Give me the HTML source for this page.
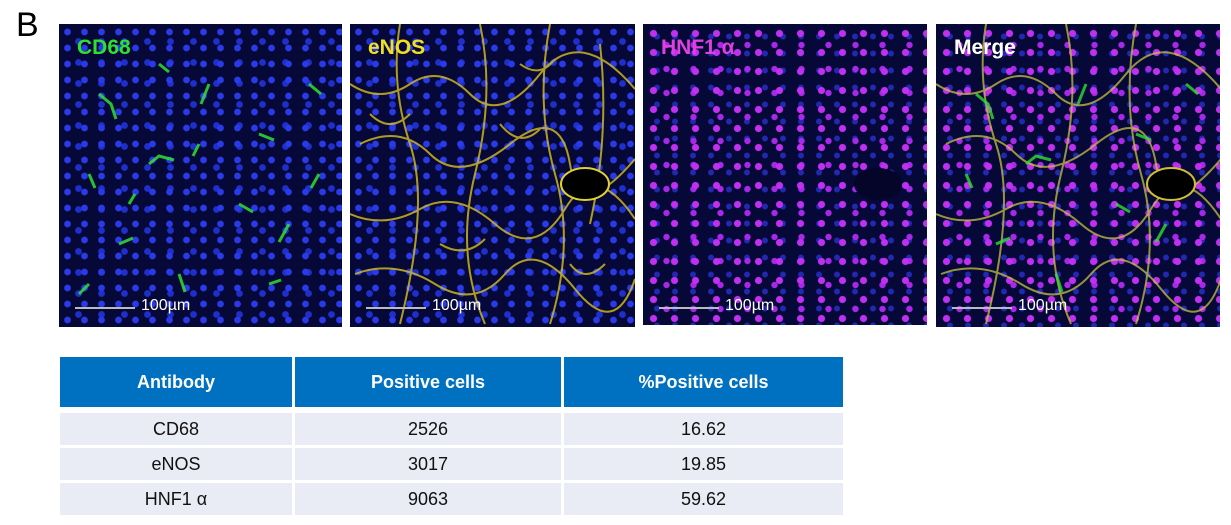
<!DOCTYPE html>
<html><head><meta charset="utf-8"><style>
body{margin:0;width:1231px;height:525px;background:#fff;position:relative;overflow:hidden;font-family:"Liberation Sans",sans-serif}
.B{position:absolute;left:16px;top:6px;font-size:34px;color:#000}
.p{position:absolute;top:24px;height:303px;background:#060838;overflow:hidden}
.dots{position:absolute;inset:0;background-image:radial-gradient(circle,#2a3ae8 3px,transparent 3.7px),radial-gradient(circle,#1f2fcc 3px,transparent 3.7px);background-size:17px 16px,23px 21px;background-position:0 0,8px 7px}
.mag{background-image:radial-gradient(circle,#c030f0 3.2px,transparent 3.9px),radial-gradient(circle,#a828e8 2.8px,transparent 3.5px),radial-gradient(circle,#2228b0 2.6px,transparent 3.3px);background-size:21px 19px,27px 24px,18px 17px;background-position:0 0,10px 9px,5px 4px}
.lab{position:absolute;left:18px;top:12px;font-weight:bold;font-size:21px}
.sb{position:absolute;left:16px;top:283px;width:60px;height:2px;background:#bbb}
.sbt{position:absolute;left:82px;top:273px;color:#fff;font-size:16px}
svg{position:absolute;inset:0}
table{position:absolute;left:57px;top:357px;border-collapse:separate;border-spacing:3px 0;font-family:"Liberation Sans",sans-serif;table-layout:fixed}
th,td{padding:0}
th{background:#0070c0;color:#fff;font-size:18px;height:50px;font-weight:bold}
td{background:#e9ecf4;text-align:center;font-size:18px;color:#111;height:32px;border-top:3px solid #fff}
tr.f td{border-top:6px solid #fff}
</style></head><body>
<div class="B">B</div>

<div class="p" style="left:59px;width:283px"><div class="dots"></div>
<svg width="283" height="303"><g stroke="#30e030" stroke-width="3" fill="none" opacity=".85">
<path d="M40 70l12 10 5 15M90 140l10-8 15 4M150 60l-8 20M200 110l15 6M230 200l-10 18M60 220l14-6M120 250l6 18M250 60l12 10M30 150l6 14M180 180l14 8M100 40l10 8M260 150l-8 14M140 120l-6 12M210 260l12-4M20 270l10-10M70 180l6-10"/></g></svg>
<div class="lab" style="color:#30e030">CD68</div><div class="sb"></div><div class="sbt">100µm</div></div>

<div class="p" style="left:350px;width:285px"><div class="dots"></div>
<svg width="285" height="303"><g stroke="#d8c020" stroke-width="2" fill="none" opacity=".8">
<path d="M0 60q30 20 60 0t60 10 70-20 95 15M10 120q40-20 70 10t80-10 60 20 65-5M0 190q35 15 70-5t75 15 70-15 70 10M5 250q40-15 80 10t70-10 70 15 60-10M50 0q-10 60 10 120t-10 180M130 0q15 70-5 150t10 150M200 0q-15 80 5 150t-5 150M250 20q10 90-10 180"/>
<path d="M20 90q20 20 40 0M150 100q20 25 40 5M90 220q25 15 45-5M220 240q15 20 35 0M170 40q20 15 35-5"/></g>
<ellipse cx="235" cy="160" rx="24" ry="16" fill="#000" stroke="#e0d030" stroke-width="2"/></svg>
<div class="lab" style="color:#f0e020">eNOS</div><div class="sb"></div><div class="sbt">100µm</div></div>

<div class="p" style="left:643px;width:284px;height:301px"><div class="dots mag"></div>
<svg width="284" height="301"><ellipse cx="235" cy="160" rx="24" ry="16" fill="#05052a"/></svg>
<div class="lab" style="color:#e040e0">HNF1 α</div><div class="sb"></div><div class="sbt">100µm</div></div>

<div class="p" style="left:936px;width:284px"><div class="dots mag"></div>
<svg width="284" height="303"><g stroke="#c8c040" stroke-width="2" fill="none" opacity=".75">
<path d="M0 60q30 20 60 0t60 10 70-20 95 15M10 120q40-20 70 10t80-10 60 20 65-5M0 190q35 15 70-5t75 15 70-15 70 10M5 250q40-15 80 10t70-10 70 15 60-10M50 0q-10 60 10 120t-10 180M130 0q15 70-5 150t10 150M200 0q-15 80 5 150t-5 150"/></g>
<g stroke="#30e030" stroke-width="3" fill="none" opacity=".8"><path d="M40 70l12 10 5 15M90 140l10-8 15 4M150 60l-8 20M200 110l15 6M230 200l-10 18M60 220l14-6M120 250l6 18M250 60l12 10M30 150l6 14M180 180l14 8"/></g>
<ellipse cx="235" cy="160" rx="24" ry="16" fill="#000" stroke="#d0c030" stroke-width="2"/></svg>
<div class="lab" style="color:#fff">Merge</div><div class="sb"></div><div class="sbt">100µm</div></div>

<table style="width:789px">
<colgroup><col style="width:232px"><col style="width:266px"><col style="width:279px"></colgroup>
<tr><th>Antibody</th><th>Positive cells</th><th>%Positive cells</th></tr>
<tr class="f"><td>CD68</td><td>2526</td><td>16.62</td></tr>
<tr><td>eNOS</td><td>3017</td><td>19.85</td></tr>
<tr><td>HNF1 α</td><td>9063</td><td>59.62</td></tr>
</table>
</body></html>
